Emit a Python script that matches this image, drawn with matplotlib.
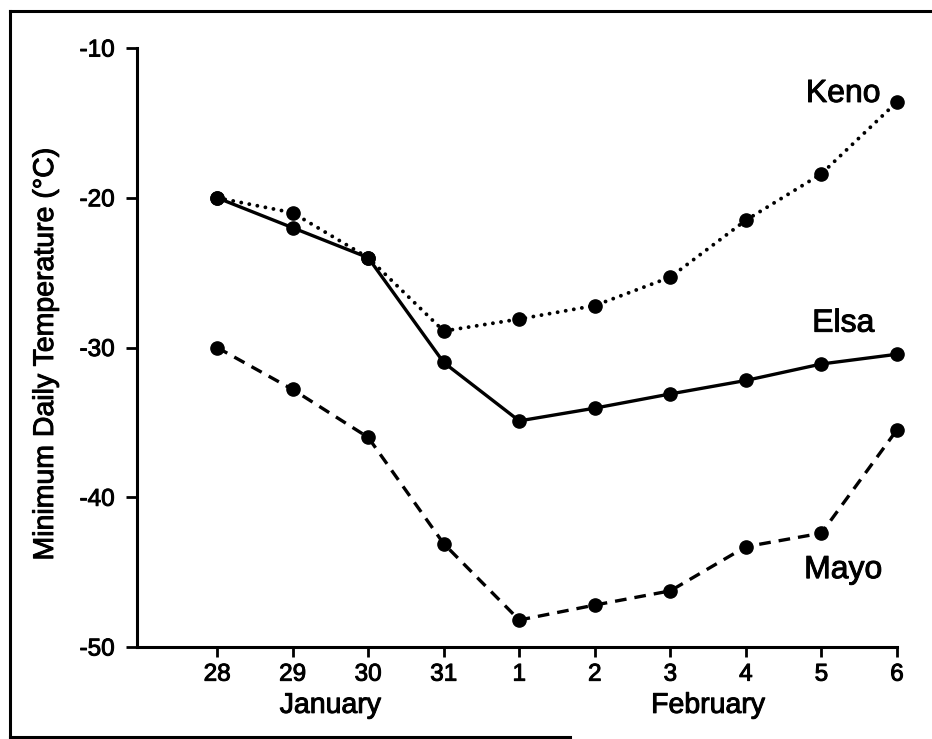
import matplotlib
matplotlib.use('Agg')
import matplotlib.pyplot as plt
import matplotlib.patheffects as pe
from matplotlib.lines import Line2D

plt.rcParams['font.family'] = ['Liberation Sans', 'DejaVu Sans']

# days from Jan 28 to Feb 6
day_labels = ['28', '29', '30', '31', '1', '2', '3', '4', '5', '6']
keno = [-20.0, -21.0, -24.0, -28.9, -28.1, -27.2, -25.3, -21.5, -18.4, -13.6]
elsa = [-20.0, -22.0, -24.0, -31.0, -34.9, -34.05, -33.1, -32.2, -31.1, -30.45]
mayo = [-30.0, -32.8, -36.0, -43.1, -48.2, -47.2, -46.25, -43.3, -42.4, -35.5]
y_ticks = [-50, -40, -30, -20, -10]
months = ['January', 'February']
month_pos = [1.5, 6.5]

x = list(range(len(day_labels)))

# text is a bit heavier than plain regular weight
heavy = [pe.withStroke(linewidth=0.7, foreground='black')]

fig = plt.figure(figsize=(9.32, 7.39), dpi=100)
ax = fig.add_axes([0.147, 0.1245, 0.8154, 0.8105])

ax.plot(x, keno, color='black', lw=2.8, linestyle=(0, (0.01, 2.1)),
        dash_capstyle='round', marker='o', ms=9.5, clip_on=False, zorder=3)
ax.plot(x, elsa, color='black', lw=2.4, linestyle='-',
        marker='o', ms=9.5, clip_on=False, zorder=3)
ax.plot(x, mayo, color='black', lw=2.4, linestyle=(0, (3.5, 2.4)),
        marker='o', ms=9.5, clip_on=False, zorder=3)

ax.set_xlim(-1.06, 9)
ax.set_ylim(-50, -10)
ax.set_xticks(x)
ax.set_xticklabels(day_labels)
ax.set_yticks(y_ticks)
ax.set_yticklabels([str(v) for v in y_ticks])
ax.tick_params(axis='both', direction='out', width=2, labelsize=17.5, colors='black')
ax.tick_params(axis='y', length=8, pad=8)
ax.tick_params(axis='x', length=7, pad=5)
for lab in ax.get_xticklabels() + ax.get_yticklabels():
    lab.set_path_effects(heavy)

for s in ['top', 'right']:
    ax.spines[s].set_visible(False)
for s in ['left', 'bottom']:
    ax.spines[s].set_linewidth(2.2)

# series names next to the lines
ax.text(8.29, -13.6, 'Keno', fontsize=23, ha='center', va='baseline', path_effects=heavy)
ax.text(8.29, -28.94, 'Elsa', fontsize=23, ha='center', va='baseline', path_effects=heavy)
ax.text(8.29, -45.4, 'Mayo', fontsize=23, ha='center', va='baseline', path_effects=heavy)

for m, p in zip(months, month_pos):
    ax.text(p, -54.4, m, fontsize=20.5, ha='center', va='baseline', clip_on=False,
            path_effects=heavy)

fig.text(46 / 932, 1 - 354 / 739, 'Minimum Daily Temperature (°C)', fontsize=20.5,
         rotation=90, ha='center', va='center', path_effects=heavy)

# box lines round the figure
W, H = 932.0, 739.0
fig.add_artist(Line2D([10 / W, 10 / W], [1 - 11 / H, 1 - 737 / H], color='black', lw=2.2))
fig.add_artist(Line2D([10 / W, 1.0], [1 - 11 / H, 1 - 11 / H], color='black', lw=2.2))
fig.add_artist(Line2D([10 / W, 570 / W], [1 - 737 / H, 1 - 737 / H], color='black', lw=2.2))

fig.savefig('out.png', dpi=100, facecolor='white')
